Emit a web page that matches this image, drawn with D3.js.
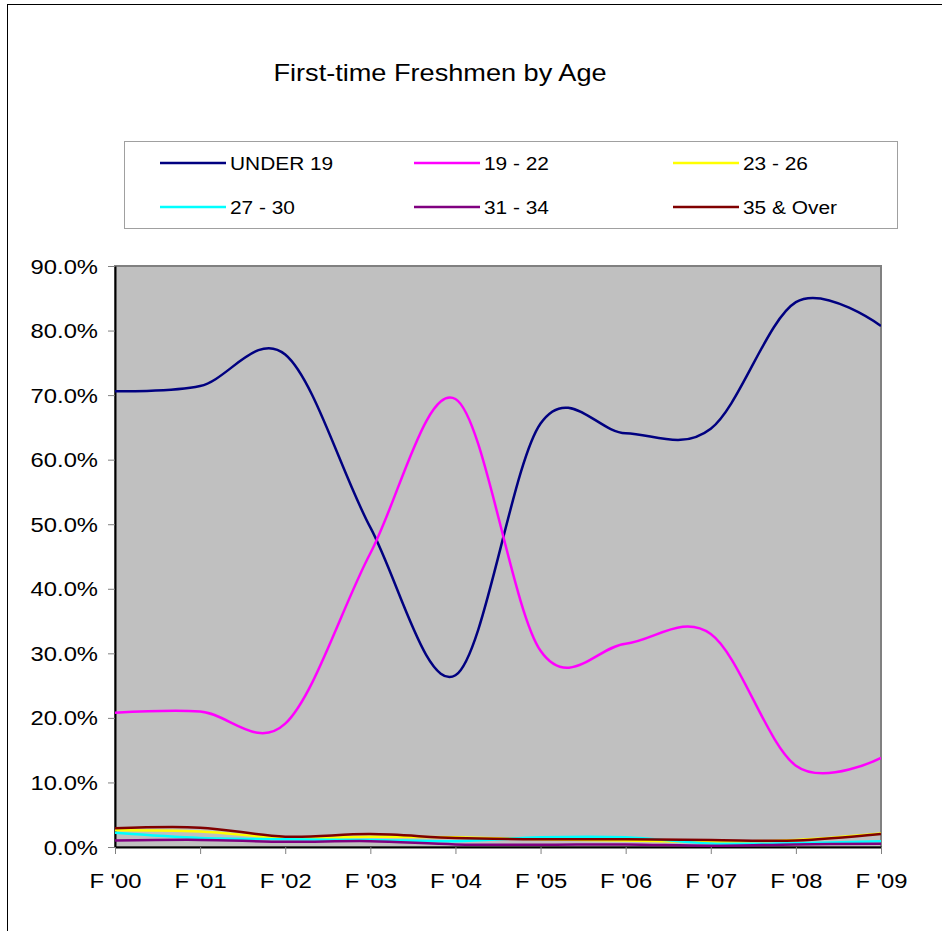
<!DOCTYPE html>
<html>
<head>
<meta charset="utf-8">
<script src="https://cdn.jsdelivr.net/npm/d3@7"></script>
<style>
html,body{margin:0;padding:0;background:#fff;}
svg{display:block;font-family:"Liberation Sans",Arial,sans-serif;}
</style>
</head>
<body>
<svg id="chart" width="942" height="931"></svg>
<script>
// ---- data ----
const categories = ["F '00","F '01","F '02","F '03","F '04","F '05","F '06","F '07","F '08","F '09"];
const seriesNames = ["UNDER 19","19 - 22","23 - 26","27 - 30","31 - 34","35 & Over"];
const under19 = [70.6, 71.4, 76.3, 49.5, 26.6, 65.6, 64.1, 64.8, 84.4, 80.7];
const age19_22 = [20.8, 21.0, 19.1, 45.5, 69.4, 30.4, 31.5, 33.0, 12.6, 13.8];
const age23_26 = [2.6, 2.4, 1.4, 1.6, 1.5, 1.2, 1.0, 0.8, 1.1, 2.1];
const age27_30 = [2.2, 1.4, 1.2, 1.1, 0.9, 1.5, 1.5, 0.55, 0.6, 0.9];
const age31_34 = [1.0, 1.1, 0.8, 0.9, 0.4, 0.35, 0.4, 0.2, 0.4, 0.5];
const age35plus = [2.9, 3.0, 1.6, 2.0, 1.4, 1.2, 1.2, 1.1, 1.0, 2.0];
const yTicks = [0,10,20,30,40,50,60,70,80,90];
const colors = ["#000080","#FF00FF","#FFFF00","#00FFFF","#800080","#800000"];

const series = [under19, age19_22, age23_26, age27_30, age31_34, age35plus]
  .map((vals,i)=>({name:seriesNames[i], color:colors[i], values:vals}));

const svg = d3.select("#chart");
const SX = 1.16; // horizontal stretch of text like the original rendering

// outer frame
svg.append("rect").attr("x",7.5).attr("y",4.5).attr("width",1000).attr("height",1000)
  .attr("fill","none").attr("stroke","#000").attr("stroke-width",1);

// title
svg.append("text").attr("transform",`translate(440,81) scale(1.18,1)`)
  .attr("text-anchor","middle").attr("font-size",23).attr("fill","#000")
  .text("First-time Freshmen by Age");

// plot
const x = d3.scalePoint().domain(categories).range([115,881]);
const y = d3.scaleLinear().domain([0,90]).range([847,266]);

svg.append("rect").attr("x",115).attr("y",266).attr("width",766).attr("height",581)
  .attr("fill","#c0c0c0").attr("stroke","#808080").attr("stroke-width",2);

// axes
const yAxis = svg.append("g").attr("transform","translate(115,0)")
  .call(d3.axisLeft(y).tickValues(yTicks).tickSize(7).tickSizeOuter(0)
    .tickFormat(d=>d.toFixed(1)+"%"));
yAxis.select(".domain").attr("stroke","#000").attr("stroke-width",2);
yAxis.selectAll(".tick line").attr("stroke","#808080");
yAxis.selectAll(".tick text").attr("x",0).attr("dy",null)
  .attr("transform",`translate(-17,7) scale(${SX},1)`)
  .attr("font-size",20.5).attr("fill","#000").attr("font-family","Liberation Sans, Arial, sans-serif");

const xAxis = svg.append("g").attr("transform","translate(0,847)")
  .call(d3.axisBottom(x).tickSize(7).tickSizeOuter(0));
xAxis.select(".domain").attr("stroke","#000").attr("stroke-width",2);
xAxis.selectAll(".tick line").attr("stroke","#808080");
xAxis.selectAll(".tick text").attr("y",0).attr("dy",null)
  .attr("transform",`translate(0,41) scale(${SX},1)`)
  .attr("font-size",20.5).attr("fill","#000").attr("font-family","Liberation Sans, Arial, sans-serif");

// lines
const line = d3.line().x((d,i)=>x(categories[i])).y(d=>y(d)).curve(d3.curveCardinal.tension(0));
const clipId = "plotclip";
svg.append("clipPath").attr("id",clipId).append("rect")
  .attr("x",115).attr("y",266).attr("width",766).attr("height",581);
svg.append("g").attr("clip-path",`url(#${clipId})`)
  .selectAll("path").data(series).join("path")
  .attr("d",d=>line(d.values)).attr("fill","none")
  .attr("stroke",d=>d.color).attr("stroke-width",2.5);

// legend
svg.append("rect").attr("x",124.5).attr("y",141.5).attr("width",773).attr("height",87)
  .attr("fill","#fff").attr("stroke","#a0a0a0").attr("stroke-width",1);
const legCols = [160,414,673];
const legRows = [163,207];
const leg = svg.append("g").selectAll("g").data(series).join("g")
  .attr("transform",(d,i)=>`translate(${legCols[i%3]},${legRows[Math.floor(i/3)]})`);
leg.append("line").attr("x1",0).attr("x2",66).attr("y1",0).attr("y2",0)
  .attr("stroke",d=>d.color).attr("stroke-width",2.5);
leg.append("text").attr("transform",`translate(70,7) scale(${SX},1)`)
  .attr("font-size",18).attr("fill","#000").text(d=>d.name);
</script>
</body>
</html>
